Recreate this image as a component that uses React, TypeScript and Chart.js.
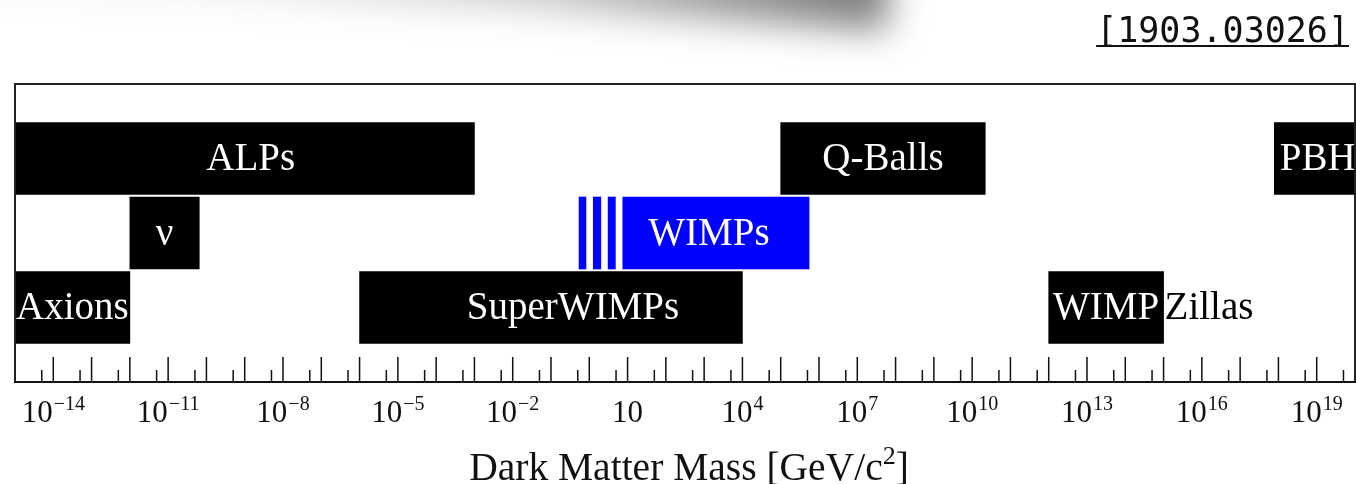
import { useEffect, useRef } from "react";
import { Chart, registerables } from "chart.js";

Chart.register(...registerables);

// Dark matter candidates and their mass ranges [GeV/c^2]
const names = ["ALPs", "Axions", "ν", "SuperWIMPs", "WIMPs", "Q-Balls", "WIMPZillas", "PBH"];
const massLow = [1e-15, 1e-15, 1e-12, 1e-6, 7.5, 1e5, 1e12, 7.8e17];
const massHigh = [1e-3, 1e-12, 6.5e-11, 1e4, 5.5e5, 2.2e10, 1e15, 1e20];
const rows = ["upper", "lower", "middle", "lower", "middle", "upper", "lower", "upper"];

// hatched light-WIMP region below the solid WIMP band
const lightWimpLow = [0.54, 1.27, 3.1];
const lightWimpHigh = [0.82, 2.0, 4.8];

const rowLabels = ["", "upper", "middle", "lower", ""];
const labelExponents = [-14, -11, -8, -5, -2, 1, 4, 7, 10, 13, 16, 19];
const axisTitle = "Dark Matter Mass [GeV/c";
const reference = "[1903.03026]";

const SERIF = '"Liberation Serif", "Times New Roman", serif';
const BLUE = "#0000ff";
const labelShift: Record<string, number> = { ALPs: 6, SuperWIMPs: 22, WIMPs: -7, PBH: 3 };

function drawPower(ctx: CanvasRenderingContext2D, x: number, baseline: number, exp: number) {
  const base = "10";
  const sup = exp === 1 ? "" : exp < 0 ? "\u2212" + String(-exp) : String(exp);
  ctx.font = `31px ${SERIF}`;
  const wb = ctx.measureText(base).width;
  ctx.font = `20px ${SERIF}`;
  const ws = sup ? ctx.measureText(sup).width + 1 : 0;
  const left = x - (wb + ws) / 2;
  ctx.textAlign = "left";
  ctx.font = `31px ${SERIF}`;
  ctx.fillText(base, left, baseline);
  if (sup) {
    ctx.font = `20px ${SERIF}`;
    ctx.fillText(sup, left + wb + 1, baseline - 12);
  }
}

const decorations = {
  id: "decorations",
  afterDatasetsDraw(chart: any) {
    const ctx: CanvasRenderingContext2D = chart.ctx;
    const meta = chart.getDatasetMeta(0);
    ctx.save();
    ctx.font = `39px ${SERIF}`;
    ctx.textBaseline = "alphabetic";
    names.forEach((name, i) => {
      const el = meta.data[i];
      const { x, y, base } = el.getProps(["x", "y", "base"], true);
      const l = Math.min(x, base);
      const r = Math.max(x, base);
      const by = y + 11.5;
      if (name === "WIMPZillas") {
        // "WIMP" sits inside the bar, "Zillas" runs on past its end
        ctx.textAlign = "center";
        ctx.fillStyle = "#fff";
        ctx.fillText("WIMP", (l + r) / 2, by);
        ctx.textAlign = "left";
        ctx.fillStyle = "#000";
        ctx.fillText("Zillas", r + 1, by);
      } else {
        ctx.textAlign = "center";
        ctx.fillStyle = "#fff";
        ctx.fillText(name, (l + r) / 2 + (labelShift[name] || 0), by);
      }
    });
    ctx.restore();
  },
  afterDraw(chart: any) {
    const ctx: CanvasRenderingContext2D = chart.ctx;
    const a = chart.chartArea;
    const xs = chart.scales.x;
    ctx.save();
    // frame
    ctx.strokeStyle = "#222";
    ctx.lineWidth = 2;
    ctx.beginPath();
    ctx.moveTo(a.left, a.bottom);
    ctx.lineTo(a.left, a.top);
    ctx.lineTo(a.right, a.top);
    ctx.lineTo(a.right, a.bottom);
    ctx.stroke();
    ctx.strokeStyle = "#111";
    ctx.beginPath();
    ctx.moveTo(a.left - 1, a.bottom);
    ctx.lineTo(a.right + 1, a.bottom);
    ctx.stroke();
    // inward ticks: decades long, 5x10^k short
    ctx.lineWidth = 1.5;
    ctx.beginPath();
    for (let k = -14; k <= 19; k++) {
      const px = xs.getPixelForValue(Math.pow(10, k));
      ctx.moveTo(px, a.bottom);
      ctx.lineTo(px, a.bottom - 25);
    }
    for (let k = -15; k <= 19; k++) {
      const px = xs.getPixelForValue(5 * Math.pow(10, k));
      ctx.moveTo(px, a.bottom);
      ctx.lineTo(px, a.bottom - 12);
    }
    ctx.stroke();
    // tick labels
    ctx.fillStyle = "#111";
    ctx.textBaseline = "alphabetic";
    labelExponents.forEach((e) => drawPower(ctx, xs.getPixelForValue(Math.pow(10, e)), 422, e));
    // axis title with superscript
    ctx.font = `39.5px ${SERIF}`;
    const w1 = ctx.measureText(axisTitle).width;
    ctx.font = `26px ${SERIF}`;
    const w2 = ctx.measureText("2").width;
    ctx.font = `39.5px ${SERIF}`;
    const w3 = ctx.measureText("]").width;
    const cx = (a.left + a.right) / 2 + 4;
    let tx = cx - (w1 + w2 + w3) / 2;
    ctx.textAlign = "left";
    ctx.fillText(axisTitle, tx, 480);
    tx += w1;
    ctx.font = `26px ${SERIF}`;
    ctx.fillText("2", tx, 464);
    tx += w2;
    ctx.font = `39.5px ${SERIF}`;
    ctx.fillText("]", tx, 480);
    // arXiv reference, underlined
    ctx.font = '35px "DejaVu Sans Mono", monospace';
    ctx.textAlign = "right";
    ctx.fillStyle = "#111";
    ctx.fillText(reference, 1349, 42);
    const rw = ctx.measureText(reference).width;
    ctx.fillRect(1349 - rw, 45, rw, 2);
    ctx.restore();
  },
};

export default function App() {
  const ref = useRef<HTMLCanvasElement>(null);
  useEffect(() => {
    document.body.style.margin = "0";
    const canvas = ref.current!;
    const points = [
      ...names.map((n, i) => ({ x: [massLow[i], massHigh[i]], y: rows[i], name: n })),
      ...lightWimpLow.map((lo, i) => ({ x: [lo, lightWimpHigh[i]], y: "middle", name: "light WIMPs" })),
    ];
    const colors = points.map((p) => (p.name === "WIMPs" || p.name === "light WIMPs" ? BLUE : "#000"));
    const chart = new Chart(canvas, {
      type: "bar",
      data: {
        labels: rowLabels,
        datasets: [
          {
            data: points as any,
            backgroundColor: colors,
            borderWidth: 0,
            barThickness: 72,
          },
        ],
      },
      options: {
        indexAxis: "y",
        animation: false,
        responsive: false,
        devicePixelRatio: 1,
        layout: { padding: { left: 15, right: 1, top: 84, bottom: 102 } },
        scales: {
          x: { type: "logarithmic", min: 1e-15, max: 1e20, display: false },
          y: { type: "category", labels: rowLabels, offset: false, display: false },
        },
        plugins: { legend: { display: false }, tooltip: { enabled: false } },
      },
      plugins: [decorations],
    });
    return () => chart.destroy();
  }, []);

  return (
    <div style={{ position: "relative", width: 1356, height: 484, overflow: "hidden", background: "#fff" }}>
      <div style={{ position: "absolute", left: -60, top: -60, width: 1020, height: 200, filter: "blur(18px)" }}>
        <div
          style={{
            position: "absolute",
            inset: 0,
            clipPath: "polygon(0px 0px, 948px 0px, 948px 90px, 560px 66px, 0px 50px)",
            background:
              "linear-gradient(to right, rgba(0,0,0,0.03), rgba(0,0,0,0.07) 30%, rgba(0,0,0,0.22) 60%, rgba(0,0,0,0.42) 80%, rgba(0,0,0,0.52) 93%)",
          }}
        />
      </div>
      <canvas ref={ref} width={1356} height={484} style={{ position: "absolute", left: 0, top: 0 }} />
    </div>
  );
}
